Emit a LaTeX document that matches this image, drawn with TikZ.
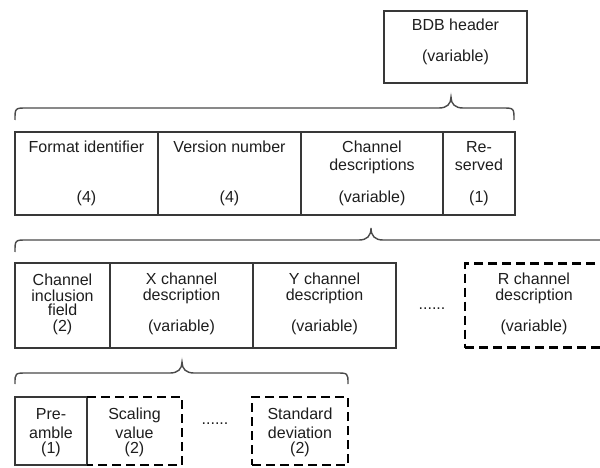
\documentclass[tikz,border=0pt]{standalone}
\usepackage{fontspec}
\setmainfont{Liberation Sans}
\definecolor{linec}{HTML}{383838}
\definecolor{bracec}{HTML}{4A4A4A}
\definecolor{txtc}{HTML}{1E1E1E}
\begin{document}
\begin{tikzpicture}[x=1pt,y=-1pt,
  cell/.style={draw=linec, line width=1.1pt, rectangle, inner sep=0pt, outer sep=0pt},
  dcell/.style={draw=black, line width=2.2pt, dash pattern=on 9pt off 5pt},
  nocell/.style={rectangle, inner sep=0pt, outer sep=0pt},
  txt/.style={font=\fontsize{16}{18}\selectfont, inner sep=0pt, anchor=base, text=txtc},
  brace/.style={draw=bracec, line width=1.4pt}]
\useasboundingbox (0,0) rectangle (600,468);
\fill[white] (0,0) rectangle (600,468);
\clip (0,0) rectangle (600,468);

% BDB header
\node[cell, minimum width=143pt, minimum height=72pt] (bdb) at (455.5,47) {};
\node[txt] (tbdb1) at (455.5,31) {BDB header};
\node[txt] (tbdb2) at (455.5,62) {(variable)};

% brace 1
\draw[brace] (15,120) .. controls (15,108) .. (27,108) -- (439,108)
  .. controls (447,108) and (451,104) .. (451,97)
  .. controls (451,104) and (455,108) .. (463,108) -- (502,108)
  .. controls (514,108) .. (514,120);

% row 1
\node[cell, minimum width=143pt, minimum height=83pt] (fi) at (86.5,173.5) {};
\node[cell, minimum width=143pt, minimum height=83pt] (vn) at (229.5,173.5) {};
\node[cell, minimum width=142pt, minimum height=83pt] (cd) at (372,173.5) {};
\node[cell, minimum width=72pt, minimum height=83pt] (rs) at (479,173.5) {};
\node[txt] (tfi1) at (86.5,153) {Format identifier};
\node[txt] (tfi2) at (86.5,202) {(4)};
\node[txt] (tvn1) at (229.5,153) {Version number};
\node[txt] (tvn2) at (229.5,202) {(4)};
\node[txt] (tcd1) at (372,153) {Channel};
\node[txt] (tcd2) at (372,171) {descriptions};
\node[txt] (tcd3) at (372,202) {(variable)};
\node[txt] (trs1) at (479,153) {Re-};
\node[txt] (trs2) at (479,171) {served};
\node[txt] (trs3) at (479,202) {(1)};

% brace 2
\draw[brace] (15,252) .. controls (15,240) .. (27,240) -- (359,240)
  .. controls (367,240) and (371,236) .. (371,228)
  .. controls (371,236) and (375,240) .. (383,240) -- (596,240)
  .. controls (608,240) .. (608,252);

% row 2
\node[cell, minimum width=95pt, minimum height=85pt] (cif) at (62.5,305.5) {};
\node[cell, minimum width=143pt, minimum height=85pt] (xcd) at (181.5,305.5) {};
\node[cell, minimum width=143pt, minimum height=85pt] (ycd) at (324.5,305.5) {};
\node[nocell, dcell, minimum width=142pt, minimum height=84pt] (rcd) at (536,305.5) {};
\node[txt] (tcif1) at (62.5,285.5) {Channel};
\node[txt] (tcif2) at (62.5,301) {inclusion};
\node[txt] (tcif3) at (62.5,315.5) {field};
\node[txt] (tcif4) at (62.5,331.5) {(2)};
\node[txt] (txcd1) at (181.5,284) {X channel};
\node[txt] (txcd2) at (181.5,300) {description};
\node[txt] (txcd3) at (181.5,331) {(variable)};
\node[txt] (tycd1) at (324.5,284) {Y channel};
\node[txt] (tycd2) at (324.5,300) {description};
\node[txt] (tycd3) at (324.5,331) {(variable)};
\node[txt] (trcd1) at (534,284) {R channel};
\node[txt] (trcd2) at (534,300) {description};
\node[txt] (trcd3) at (534,331) {(variable)};
\node[txt] (dots1) at (432,309) {......};

% brace 3
\draw[brace] (15,384) .. controls (15,373) .. (27,373) -- (170,373)
  .. controls (178,373) and (182,369) .. (182,362)
  .. controls (182,369) and (186,373) .. (194,373) -- (336,373)
  .. controls (348,373) .. (348,384);

% row 3
\node[cell, minimum width=72pt, minimum height=68pt] (pre) at (51,431) {};
\node[nocell, minimum width=95pt, minimum height=68pt] (sv) at (134.5,431) {};
\draw[dcell] (sv.north west) -- (sv.north east) -- (sv.south east) -- (sv.south west);
\node[nocell, dcell, minimum width=96pt, minimum height=68pt] (sd) at (300,431) {};
\node[txt] (tpre1) at (51,419) {Pre-};
\node[txt] (tpre2) at (51,438) {amble};
\node[txt] (tpre3) at (51,453) {(1)};
\node[txt] (tsv1) at (134.5,419) {Scaling};
\node[txt] (tsv2) at (134.5,438) {value};
\node[txt] (tsv3) at (134.5,453) {(2)};
\node[txt] (tsd1) at (300,419) {Standard};
\node[txt] (tsd2) at (300,438) {deviation};
\node[txt] (tsd3) at (300,453) {(2)};
\node[txt] (dots2) at (215,424) {......};
\end{tikzpicture}
\end{document}
